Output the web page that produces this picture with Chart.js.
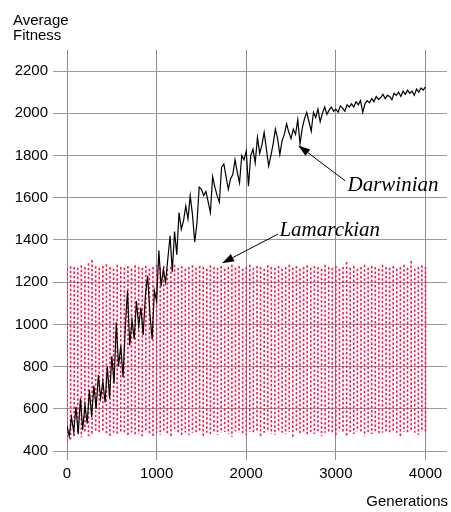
<!DOCTYPE html>
<html>
<head>
<meta charset="utf-8">
<script src="https://cdn.jsdelivr.net/npm/chart.js@4.4.1/dist/chart.umd.min.js"></script>
<style>
  html, body { margin: 0; padding: 0; background: #fff; }
  #wrap { width: 451px; height: 512px; position: relative; }
</style>
</head>
<body>
<div id="wrap"><canvas id="c" width="451" height="512"></canvas></div>
<script>
// ---- data ----
const darwinGenerations = [
  0,25,50,75,100,125,150,175,200,225,250,275,300,325,350,375,400,425,450,475,
  500,525,550,575,600,625,650,675,700,725,750,775,800,825,850,875,900,925,950,975,
  1000,1025,1050,1075,1100,1125,1150,1175,1200,1225,1250,1275,1300,1325,1350,1375,1400,1425,1450,1475,
  1500,1525,1550,1575,1600,1625,1650,1675,1700,1725,1750,1775,1800,1825,1850,1875,1900,1925,1950,1975,
  2000,2025,2050,2075,2100,2125,2150,2175,2200,2225,2250,2275,2300,2325,2350,2375,2400,2425,2450,2475,
  2500,2525,2550,2575,2600,2625,2650,2675,2700,2725,2750,2775,2800,2825,2850,2875,2900,2925,2950,2975,
  3000,3025,3050,3075,3100,3125,3150,3175,3200,3225,3250,3275,3300,3325,3350,3375,3400,3425,3450,3475,
  3500,3525,3550,3575,3600,3625,3650,3675,3700,3725,3750,3775,3800,3825,3850,3875,3900,3925,3950,3975,
  4000
];
const darwinianFitness = [
  520,470,560,490,610,480,650,500,620,530,690,560,710,600,760,650,730,630,800,650,
  850,720,1010,800,900,750,980,1160,900,1020,930,1110,990,1080,950,1140,1230,1050,930,1160,
  1110,1350,1180,1260,1200,1310,1420,1250,1440,1330,1530,1450,1490,1560,1500,1610,1520,1390,1480,1650,
  1640,1610,1630,1580,1530,1700,1650,1610,1580,1745,1760,1700,1640,1690,1710,1780,1720,1670,1800,1780,
  1820,1655,1800,1830,1765,1885,1810,1850,1910,1830,1750,1800,1855,1925,1880,1805,1870,1900,1950,1910,
  1880,1925,1900,1970,1855,1930,1975,2005,1960,1915,2005,1980,2020,1960,2000,2030,1995,2015,2030,2010,
  2020,2005,2035,2025,2010,2040,2030,2045,2030,2055,2040,2060,2005,2045,2060,2050,2070,2055,2080,2065,
  2075,2090,2070,2085,2080,2065,2095,2085,2100,2080,2105,2090,2110,2095,2105,2085,2115,2100,2120,2110,
  2125
];
// Lamarckian: dense dotted strokes, one per sampled generation (top and bottom of each stroke)
const lamarckGenerations = [
  0,40,80,120,160,200,240,280,320,360,
  400,440,480,520,560,600,640,680,720,760,
  800,840,880,920,960,1000,1040,1080,1120,1160,
  1200,1240,1280,1320,1360,1400,1440,1480,1520,1560,
  1600,1640,1680,1720,1760,1800,1840,1880,1920,1960,
  2000,2040,2080,2120,2160,2200,2240,2280,2320,2360,
  2400,2440,2480,2520,2560,2600,2640,2680,2720,2760,
  2800,2840,2880,2920,2960,3000,3040,3080,3120,3160,
  3200,3240,3280,3320,3360,3400,3440,3480,3520,3560,
  3600,3640,3680,3720,3760,3800,3840,3880,3920,3960,
  4000
];
const lamarckianHigh = [
  1265,1275,1272,1268,1280,1272,1290,1305,1275,1268,
  1276,1285,1272,1265,1282,1272,1268,1276,1263,1280,
  1272,1268,1278,1263,1272,1282,1268,1276,1263,1272,
  1282,1268,1276,1263,1272,1280,1268,1276,1272,1263,
  1280,1272,1268,1276,1263,1272,1282,1268,1276,1263,
  1272,1282,1268,1276,1272,1263,1280,1272,1268,1276,
  1263,1272,1282,1268,1276,1263,1272,1280,1268,1276,
  1272,1263,1282,1272,1268,1276,1263,1272,1295,1268,
  1276,1263,1272,1282,1268,1276,1272,1263,1282,1272,
  1268,1276,1263,1272,1282,1268,1300,1263,1272,1280,
  1272
];
const lamarckianLow = [
  440,455,470,480,465,485,470,478,490,482,
  488,480,470,486,476,492,480,470,488,474,
  480,470,488,480,462,486,476,490,480,470,
  492,480,468,488,476,486,480,494,470,486,
  480,490,476,486,490,480,468,494,486,480,
  476,490,480,494,470,486,490,480,476,494,
  486,480,490,462,494,480,486,476,490,480,
  494,470,486,490,480,476,494,486,466,490,
  480,494,486,470,490,480,494,476,486,490,
  480,494,486,470,490,480,494,486,476,490,
  482
];
const xTickValues = [0, 1000, 2000, 3000, 4000];
const yTickValues = [400, 600, 800, 1000, 1200, 1400, 1600, 1800, 2000, 2200];
const yAxisTitle = ['Average', 'Fitness'];
const xAxisTitle = 'Generations';
// annotation anchors in data units: [generation, fitness]
const darwinLabel = { text: 'Darwinian', at: [3130, 1630], tail: [3105, 1680], tip: [2580, 1848] };
const lamarckLabel = { text: 'Lamarckian', at: [2370, 1421], tail: [2355, 1428], tip: [1730, 1290] };

const SANS = '"Liberation Sans", Arial, Helvetica, sans-serif';
const SERIF = '"Liberation Serif", "Times New Roman", serif';

function toPoints(xs, ys) { return xs.map((g, i) => ({ x: g, y: ys[i] })); }
function toStrokes(xs, hi, lo) {
  const pts = [];
  xs.forEach((g, i) => {
    pts.push({ x: g, y: hi[i] });
    pts.push({ x: g, y: lo[i] });
    pts.push({ x: g, y: null });
  });
  return pts;
}

const annotate = {
  id: 'annotate',
  afterDraw(chart) {
    const ctx = chart.ctx;
    const xs = chart.scales.x, ys = chart.scales.y;
    const P = (p) => [xs.getPixelForValue(p[0]), ys.getPixelForValue(p[1])];
    ctx.save();
    ctx.fillStyle = '#000';
    ctx.font = '15px ' + SANS;
    ctx.textAlign = 'left';
    ctx.textBaseline = 'alphabetic';
    ctx.fillText(yAxisTitle[0], 13, 25);
    ctx.fillText(yAxisTitle[1], 13, 40);
    ctx.textAlign = 'right';
    ctx.fillText(xAxisTitle, 448, 506);
    for (const lab of [darwinLabel, lamarckLabel]) {
      const [tx, ty] = P(lab.at);
      ctx.font = 'italic 21px ' + SERIF;
      ctx.textAlign = 'left';
      ctx.fillStyle = '#000';
      ctx.fillText(lab.text, tx, ty);
      const [x0, y0] = P(lab.tail);
      const [x1, y1] = P(lab.tip);
      const ang = Math.atan2(y1 - y0, x1 - x0);
      const hl = 12, hw = 4;
      const bx = x1 - hl * Math.cos(ang), by = y1 - hl * Math.sin(ang);
      ctx.strokeStyle = '#000';
      ctx.lineWidth = 1;
      ctx.beginPath();
      ctx.moveTo(x0, y0);
      ctx.lineTo(bx, by);
      ctx.stroke();
      ctx.beginPath();
      ctx.moveTo(x1, y1);
      ctx.lineTo(bx + hw * Math.sin(ang), by - hw * Math.cos(ang));
      ctx.lineTo(bx - hw * Math.sin(ang), by + hw * Math.cos(ang));
      ctx.closePath();
      ctx.fill();
    }
    ctx.restore();
  }
};

new Chart(document.getElementById('c'), {
  type: 'line',
  data: {
    datasets: [
      {
        label: 'Darwinian',
        data: toPoints(darwinGenerations, darwinianFitness),
        borderColor: '#000',
        borderWidth: 1.2,
        pointRadius: 0,
        tension: 0,
        fill: false,
        order: 0
      },
      {
        label: 'Lamarckian',
        data: toStrokes(lamarckGenerations, lamarckianHigh, lamarckianLow),
        borderColor: 'rgb(255,20,75)',
        borderWidth: 1.6,
        borderDash: [2.5, 2],
        pointRadius: 0,
        tension: 0,
        spanGaps: false,
        fill: false,
        order: 1
      }
    ]
  },
  options: {
    responsive: false,
    animation: false,
    devicePixelRatio: 1,
    layout: { padding: { left: 0, right: 4, top: 50, bottom: 0 } },
    plugins: { legend: { display: false }, tooltip: { enabled: false }, title: { display: false } },
    scales: {
      x: {
        type: 'linear',
        min: 0,
        max: 4240,
        afterBuildTicks(scale) { scale.ticks = xTickValues.map(v => ({ value: v })); },
        afterFit(scale) { scale.height = 61; },
        border: { display: false },
        grid: { color: '#8c8c8c', lineWidth: 1, tickLength: 9, drawTicks: true, tickColor: '#8c8c8c' },
        ticks: { color: '#000', font: { family: SANS, size: 15 }, padding: 5, maxRotation: 0,
                 callback: (v) => String(v) }
      },
      y: {
        type: 'linear',
        min: 400,
        max: 2300,
        afterBuildTicks(scale) { scale.ticks = yTickValues.map(v => ({ value: v })); },
        afterFit(scale) { scale.width = 67; },
        border: { display: false },
        grid: { color: '#9a9a9a', lineWidth: 1, tickLength: 14, drawTicks: true, tickColor: '#9a9a9a' },
        ticks: { color: '#000', font: { family: SANS, size: 15 }, padding: 5,
                 callback: (v) => String(v) }
      }
    }
  },
  plugins: [annotate]
});
</script>
</body>
</html>
